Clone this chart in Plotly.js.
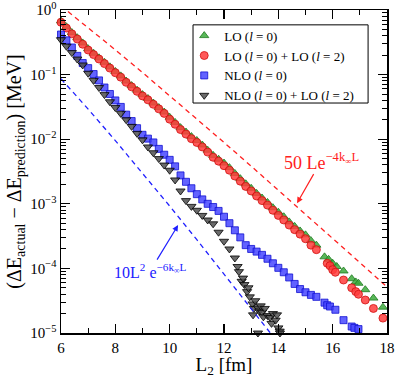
<!DOCTYPE html>
<html>
<head>
<meta charset="utf-8">
<script src="https://cdn.plot.ly/plotly-3.0.1.min.js"></script>
<style>
  html, body { margin: 0; padding: 0; background: #fff; }
  #chart { width: 395px; height: 378px; }
</style>
</head>
<body>
<div id="chart"></div>
<script>
// LO (l = 0) -- green triangles
var L_lo0 = [6.0,6.2,6.4,6.6,6.8,7.0,7.2,7.4,7.6,7.8,8.0,8.2,8.4,8.6,8.8,9.0,9.2,9.4,9.6,9.8,
  10.0,10.2,10.4,10.6,10.8,11.0,11.2,11.4,11.6,11.8,12.0,12.2,12.4,12.6,12.8,13.0,13.2,13.4,13.6,13.8,
  14.0,14.2,14.4,14.6,14.8,15.0,15.2,15.4,15.7,15.85,16.0,16.15,16.4,16.7,16.85,16.95,17.2,17.5,17.85];
var dE_lo0 = [0.676,0.550,0.447,0.372,0.309,0.251,0.214,0.182,0.155,0.132,0.112,0.0955,0.0794,0.0676,0.0575,0.0490,0.0427,0.0363,0.0309,0.0263,
  0.0219,0.0182,0.0151,0.0129,0.0110,0.00955,0.00813,0.00676,0.00562,0.00490,0.00427,0.00363,0.00295,0.00245,0.00204,0.00174,0.00145,0.00123,0.00105,0.000871,
  0.000741,0.000631,0.000525,0.000447,0.000380,0.000331,0.000269,0.000229,1.51e-4,1.38e-4,1.20e-4,1.07e-4,9.12e-5,6.92e-5,6.17e-5,5.89e-5,4.68e-5,3.47e-5,2.51e-5];

// LO (l = 0) + LO (l = 2) -- red circles
var L_lo02 = [6.0,6.2,6.4,6.6,6.8,7.0,7.2,7.4,7.6,7.8,8.0,8.2,8.4,8.6,8.8,9.0,9.2,9.4,9.6,9.8,
  10.0,10.2,10.4,10.6,10.8,11.0,11.2,11.4,11.6,11.8,12.0,12.2,12.4,12.6,12.8,13.0,13.2,13.4,13.6,13.8,
  14.0,14.2,14.4,14.6,14.8,15.0,15.2,15.4,15.8,15.9,16.0,16.1,16.4,16.7,16.85,16.95,17.2,17.5,17.85];
var dE_lo02 = [0.646,0.525,0.427,0.355,0.295,0.240,0.204,0.174,0.148,0.126,0.107,0.0912,0.0759,0.0646,0.0550,0.0468,0.0407,0.0347,0.0295,0.0251,
  0.0204,0.0170,0.0141,0.0120,0.0102,0.00891,0.00759,0.00631,0.00525,0.00457,0.00389,0.00331,0.00269,0.00224,0.00186,0.00158,0.00132,0.00112,0.000955,0.000794,
  0.000661,0.000562,0.000468,0.000398,0.000339,0.000288,0.000229,0.000195,1.20e-4,1.10e-4,9.55e-5,8.71e-5,6.61e-5,5.01e-5,4.37e-5,3.98e-5,3.24e-5,2.40e-5,1.70e-5];

// NLO (l = 0) -- blue squares
var L_nlo0 = [6.0,6.2,6.4,6.6,6.8,7.0,7.2,7.4,7.6,7.8,8.0,8.2,8.4,8.6,8.8,9.0,9.2,9.4,9.6,9.8,
  10.0,10.2,10.4,10.6,10.8,11.0,11.2,11.4,11.6,11.8,12.0,12.2,12.4,12.6,12.8,13.0,13.2,13.4,13.6,13.8,
  14.0,14.2,14.4,14.6,14.8,15.0,15.2,15.4,15.7,15.8,15.9,16.1,16.4,16.7,16.8,16.95];
var dE_nlo0 = [0.417,0.339,0.263,0.195,0.151,0.126,0.102,0.0813,0.0631,0.0501,0.0398,0.0316,0.0240,0.0191,0.0148,0.0117,0.0102,0.00891,0.00708,0.00575,
  0.00479,0.00380,0.00275,0.00219,0.00174,0.00141,0.00117,0.00100,0.000891,0.000776,0.000631,0.000501,0.000389,0.000302,0.000229,0.000200,0.000182,0.000162,0.000141,0.000120,
  0.000102,8.71e-5,7.24e-5,5.75e-5,4.79e-5,4.27e-5,3.89e-5,3.63e-5,2.95e-5,2.69e-5,2.57e-5,2.29e-5,1.58e-5,1.26e-5,1.20e-5,1.15e-5];

// NLO (l = 0) + LO (l = 2) -- black triangles
var L_nlo02 = [6.0,6.2,6.4,6.6,6.8,7.0,7.2,7.4,7.6,7.8,8.0,8.2,8.4,8.6,8.8,9.0,9.2,9.4,9.6,9.8,
  10.0,10.2,10.4,10.6,10.8,11.0,11.2,11.4,11.6,11.8,12.0,12.2,12.4,
  12.5,12.55,12.65,12.7,12.75,12.85,12.9,12.95,13.05,13.07,13.1,13.15,13.25,13.25,13.3,13.35,13.4,13.45,13.5,13.6,13.7,13.75,13.8,13.9,13.95,14.0,14.05,14.06];
var dE_nlo02 = [0.347,0.275,0.219,0.174,0.141,0.105,0.0813,0.0631,0.0490,0.0380,0.0309,0.0251,0.0200,0.0158,0.0123,0.00977,0.00759,0.00617,0.00501,0.00398,
  0.00331,0.00234,0.00158,0.00112,0.000912,0.000794,0.000661,0.000562,0.000490,0.000363,0.000263,0.000200,0.000145,
  1.07e-4,8.91e-5,6.31e-5,7.08e-5,5.62e-5,4.37e-5,5.01e-5,3.63e-5,2.82e-5,1.91e-5,2.40e-5,3.16e-5,2.45e-5,1.0e-5,2.19e-5,2.63e-5,2.09e-5,1.78e-5,2.40e-5,1.86e-5,1.74e-5,1.41e-5,2.00e-5,1.58e-5,1.91e-5,1.20e-5,1.07e-5,1.0e-5];

// asymptotic curves
var L_fit4 = [6,7,8,9,10,11,12,13,14,15,16,17,18];
var fit4 = [1.156,0.534,0.2418,0.1077,0.04739,0.02064,0.008917,0.003825,0.001631,6.92e-4,2.923e-4,1.230e-4,5.156e-5];
var L_fit6 = [6,7,8,9,10,11,12,13,14];
var fit6 = [0.0862,0.02922,0.00951,0.0030,9.226e-4,2.782e-4,8.25e-5,2.412e-5,6.97e-6];

var yTickVals = [1e-5, 1e-4, 1e-3, 1e-2, 1e-1, 1];
var yTickText = ['10<sup>\u22125</sup>','10<sup>\u22124</sup>','10<sup>\u22123</sup>','10<sup>\u22122</sup>','10<sup>\u22121</sup>','10<sup>0</sup>'];

// minor log ticks 2..9 in each decade
var yMinor = [];
for (var d = -5; d < 0; d++) {
    for (var m = 2; m <= 9; m++) yMinor.push(m * Math.pow(10, d));
}

var serif = 'Liberation Serif, Times New Roman, serif';

var traces = [
    {x: L_lo0, y: dE_lo0, type: 'scatter', mode: 'markers', name: 'LO (<i>l</i> = 0)', cliponaxis: false,
     marker: {symbol: 'triangle-up', size: 8, color: 'rgba(60,170,60,0.85)', line: {color: '#1e7a1e', width: 0.8}}},
    {x: L_lo02, y: dE_lo02, type: 'scatter', mode: 'markers', name: 'LO (<i>l</i> = 0) + LO (<i>l</i> = 2)', cliponaxis: false,
     marker: {symbol: 'circle', size: 8, color: 'rgba(255,60,60,0.85)', line: {color: '#d01010', width: 0.8}}},
    {x: L_nlo0, y: dE_nlo0, type: 'scatter', mode: 'markers', name: 'NLO (<i>l</i> = 0)', cliponaxis: false,
     marker: {symbol: 'square', size: 7, color: 'rgba(70,70,255,0.85)', line: {color: '#1010d0', width: 0.8}}},
    {x: L_nlo02, y: dE_nlo02, type: 'scatter', mode: 'markers', name: 'NLO (<i>l</i> = 0) + LO (<i>l</i> = 2)', cliponaxis: false,
     marker: {symbol: 'triangle-down', size: 8, color: 'rgba(80,80,80,0.85)', line: {color: '#000', width: 0.8}}},
    {x: L_fit4, y: fit4, type: 'scatter', mode: 'lines', showlegend: false, hoverinfo: 'skip',
     line: {color: '#ff2020', width: 1.3, dash: '5px,4px'}},
    {x: L_fit6, y: fit6, type: 'scatter', mode: 'lines', showlegend: false, hoverinfo: 'skip',
     line: {color: '#2020ff', width: 1.3, dash: '5px,4px'}}
];

var layout = {
    width: 395, height: 378,
    margin: {l: 61, r: 8, t: 10, b: 45},
    paper_bgcolor: '#fff', plot_bgcolor: '#fff',
    font: {family: serif, size: 15, color: '#000'},
    showlegend: true,
    legend: {
        x: 0.378, y: 0.967, xanchor: 'left', yanchor: 'top',
        bgcolor: 'rgba(0,0,0,0)', borderwidth: 0,
        font: {family: serif, size: 13, color: '#000'},
        tracegroupgap: 0, itemwidth: 30
    },
    // legend frame
    shapes: [
        {type: 'rect', xref: 'paper', yref: 'paper', x0: 0.405, x1: 0.942, y0: 0.712, y1: 0.954,
         line: {color: '#000', width: 1}, fillcolor: 'rgba(0,0,0,0)'}
    ],
    xaxis: {
        range: [6, 18], tickmode: 'linear', tick0: 6, dtick: 2,
        ticks: 'inside', ticklen: 9, tickwidth: 1.3, tickcolor: '#000',
        minor: {dtick: 1, ticks: 'inside', ticklen: 5, tickwidth: 1.2, tickcolor: '#000', showgrid: false},
        showline: true, linecolor: '#000', linewidth: 1.5, mirror: 'ticks',
        showgrid: false, zeroline: false, ticklabeloverflow: 'allow',
        tickfont: {family: serif, size: 15},
        title: {text: 'L<sub>2</sub> [fm]', font: {family: serif, size: 19}, standoff: 4}
    },
    yaxis: {
        type: 'log', range: [-5, 0],
        tickmode: 'array', tickvals: yTickVals, ticktext: yTickText,
        ticks: 'inside', ticklen: 9, tickwidth: 1.3, tickcolor: '#000',
        minor: {tickmode: 'array', tickvals: yMinor, ticks: 'inside', ticklen: 5, tickwidth: 1, tickcolor: '#000', showgrid: false},
        showline: true, linecolor: '#000', linewidth: 1.5, mirror: 'ticks',
        showgrid: false, zeroline: false, ticklabeloverflow: 'allow',
        tickfont: {family: serif, size: 15},
        title: {text: '(\u0394E<sub>actual</sub> \u2212 \u0394E<sub>prediction</sub>) [MeV]', font: {family: serif, size: 20}, standoff: 3}
    },
    annotations: [
        {x: 14.69, y: -2.99, xref: 'x', yref: 'y',
         text: '50 Le<sup>\u22124k<sub>\u221e</sub>L</sup>', font: {family: serif, size: 18, color: '#ff2020'},
         showarrow: true, arrowhead: 2, arrowsize: 1, arrowwidth: 1.2, arrowcolor: '#ff2020', ax: 24, ay: -42},
        {x: 10.31, y: -3.33, xref: 'x', yref: 'y',
         text: '10L<sup>2</sup> e<sup>\u22126k<sub>\u221e</sub>L</sup>', font: {family: serif, size: 16, color: '#2020ff'},
         showarrow: true, arrowhead: 2, arrowsize: 1, arrowwidth: 1.2, arrowcolor: '#2020ff', ax: -28, ay: 46}
    ]
};

Plotly.newPlot('chart', traces, layout, {displayModeBar: false, staticPlot: true});
</script>
</body>
</html>
